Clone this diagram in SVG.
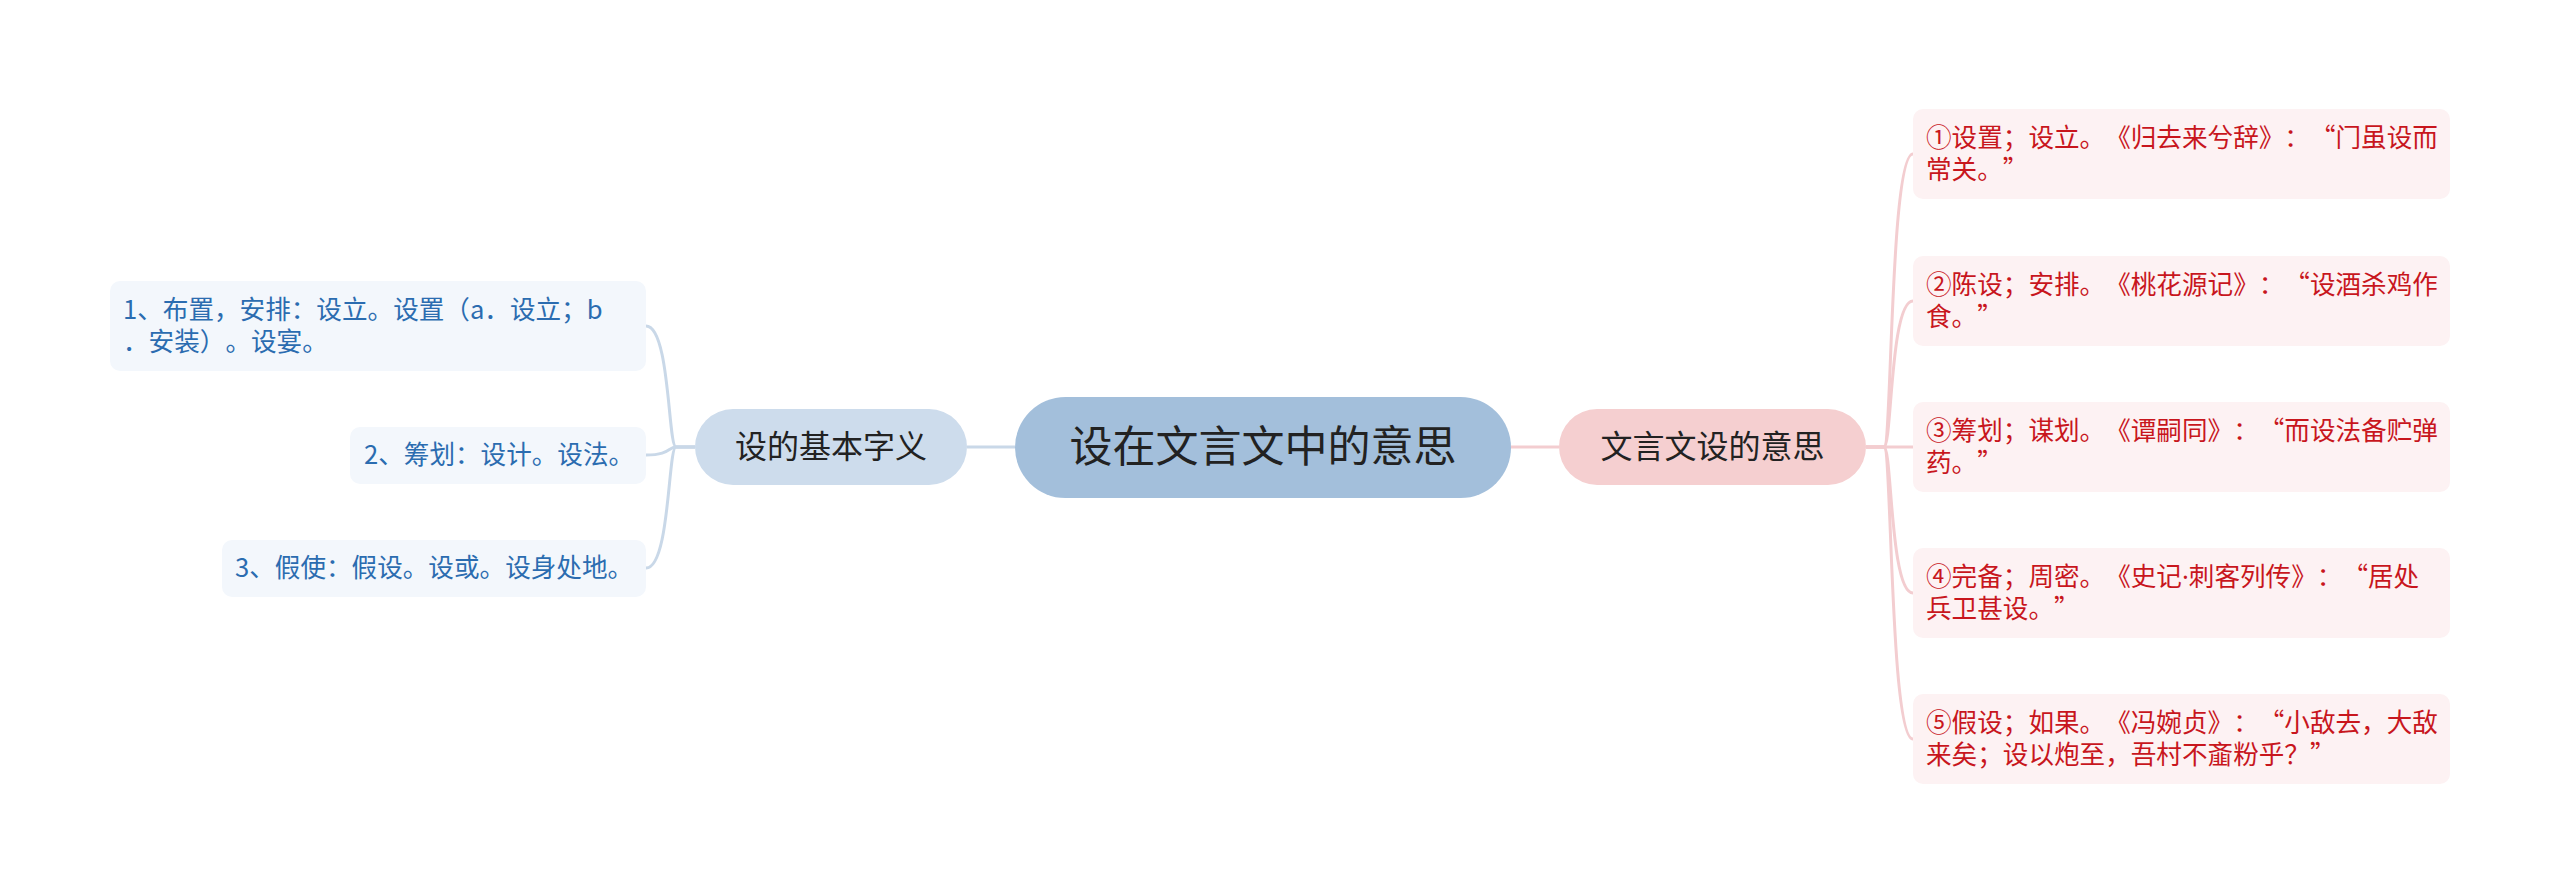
<svg xmlns="http://www.w3.org/2000/svg" width="2560" height="895" viewBox="0 0 2560 895">
<style>
text{font-family:"Noto Sans CJK SC","Noto Sans",sans-serif;text-spacing-trim:space-all;}
.conn-l{fill:none;stroke:#c9d8e8;stroke-width:3;}
.conn-r{fill:none;stroke:#f3cdd0;stroke-width:3;}
.leaf-l rect{fill:#f3f7fc;}
.leaf-l text{fill:#2b6cb0;font-size:25.6px;}
.leaf-r rect{fill:#fdf2f3;}
.leaf-r text{fill:#c8161d;font-size:25.6px;}
.branch text{fill:#222;font-size:32px;text-anchor:middle;}
.dot{font-family:"Noto Sans",sans-serif;}
</style>
<rect width="2560" height="895" fill="#ffffff"/>
<g id="connectors">
<path class="conn-l" d="M967,447 H1015"/>
<path class="conn-r" d="M1511,447 H1559"/>
<path class="conn-l" d="M695,447 H676 C668,447 670,326 646,326"/>
<path class="conn-l" d="M695,447 H676 C668,447 670,455 646,455"/>
<path class="conn-l" d="M695,447 H676 C668,447 670,568 646,568"/>
<path class="conn-r" d="M1866,447 H1884 C1892,447 1890,154 1913,154"/>
<path class="conn-r" d="M1866,447 H1884 C1892,447 1890,301 1913,301"/>
<path class="conn-r" d="M1866,447 H1913"/>
<path class="conn-r" d="M1866,447 H1884 C1892,447 1890,593 1913,593"/>
<path class="conn-r" d="M1866,447 H1884 C1892,447 1890,739 1913,739"/>
</g>
<g id="center">
<rect x="1015" y="397" width="496" height="101" rx="50.5" fill="#a3bfdb"/>
<text x="1263" y="462" font-size="43" fill="#222" text-anchor="middle">设在文言文中的意思</text>
</g>
<g id="branch-left" class="branch">
<rect x="695" y="409" width="272" height="76" rx="38" fill="#cddcec"/>
<text x="831" y="458">设的基本字义</text>
</g>
<g id="branch-right" class="branch">
<rect x="1559" y="409" width="307" height="76" rx="38" fill="#f5cfd0"/>
<text x="1712.5" y="458">文言文设的意思</text>
</g>
<g id="left-1" class="leaf-l">
<rect x="110" y="281" width="536" height="90" rx="10"/>
<text x="123" y="319">1、布置，安排：设立。设置（a．设立；b</text>
<text x="123" y="351">．安装）。设宴。</text>
</g>
<g id="left-2" class="leaf-l">
<rect x="350" y="427" width="296" height="57" rx="10"/>
<text x="364" y="464">2、筹划：设计。设法。</text>
</g>
<g id="left-3" class="leaf-l">
<rect x="222" y="540" width="424" height="57" rx="10"/>
<text x="235" y="577">3、假使：假设。设或。设身处地。</text>
</g>
<g id="right-1" class="leaf-r">
<rect x="1913" y="109" width="537" height="90" rx="10"/>
<text x="1926" y="147">①设置；设立。《归去来兮辞》：“门虽设而</text>
<text x="1926" y="179">常关。”</text>
</g>
<g id="right-2" class="leaf-r">
<rect x="1913" y="256" width="537" height="90" rx="10"/>
<text x="1926" y="294">②陈设；安排。《桃花源记》：“设酒杀鸡作</text>
<text x="1926" y="326">食。”</text>
</g>
<g id="right-3" class="leaf-r">
<rect x="1913" y="402" width="537" height="90" rx="10"/>
<text x="1926" y="440">③筹划；谋划。《谭嗣同》：“而设法备贮弹</text>
<text x="1926" y="472">药。”</text>
</g>
<g id="right-4" class="leaf-r">
<rect x="1913" y="548" width="537" height="90" rx="10"/>
<text x="1926" y="586">④完备；周密。《史记<tspan class="dot">·</tspan>刺客列传》：“居处</text>
<text x="1926" y="618">兵卫甚设。”</text>
</g>
<g id="right-5" class="leaf-r">
<rect x="1913" y="694" width="537" height="90" rx="10"/>
<text x="1926" y="732">⑤假设；如果。《冯婉贞》：“小敌去，大敌</text>
<text x="1926" y="764">来矣；设以炮至，吾村不齑粉乎？”</text>
</g>
</svg>
